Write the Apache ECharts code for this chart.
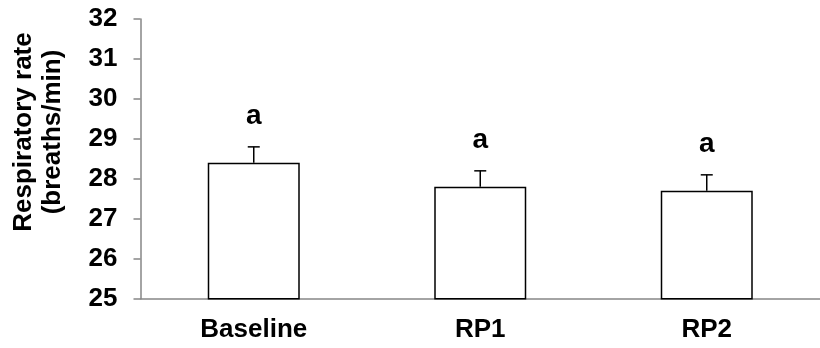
<!DOCTYPE html>
<html>
<head>
<meta charset="utf-8">
<script src="https://cdn.jsdelivr.net/npm/echarts@6/dist/echarts.min.js"></script>
<style>html,body{margin:0;padding:0;background:#fff;}#c{width:820px;height:348px;}</style>
</head>
<body>
<div id="c"></div>
<script>
var categories = ['Baseline', 'RP1', 'RP2'];
var means = [28.4, 27.8, 27.7];
var errors = [0.4, 0.4, 0.4];
var letters = ['a', 'a', 'a'];
var yTicks = [25, 26, 27, 28, 29, 30, 31, 32];
var yTitle = 'Respiratory rate\n(breaths/min)';

var FONT = '"Liberation Sans", Arial, sans-serif';
var chart = echarts.init(document.getElementById('c'), null, {renderer: 'canvas'});

var errData = categories.map(function (c, i) { return [i, means[i], means[i] + errors[i], letters[i]]; });

chart.setOption({
  animation: false,
  backgroundColor: '#fff',
  grid: {left: 140.5, right: -7.5, top: 19, bottom: 49.3},
  xAxis: {
    type: 'category',
    data: categories,
    axisLine: {lineStyle: {color: '#868686', width: 1.5}},
    axisTick: {show: false},
    axisLabel: {color: '#000', fontFamily: FONT, fontWeight: 'bold', fontSize: 26, margin: 18}
  },
  yAxis: {
    type: 'value',
    min: yTicks[0],
    max: yTicks[yTicks.length - 1],
    interval: 1,
    axisLine: {show: true, lineStyle: {color: '#868686', width: 1.5}},
    axisTick: {show: true, inside: false, length: 7, lineStyle: {color: '#868686', width: 1.5}},
    splitLine: {show: false},
    axisLabel: {color: '#000', fontFamily: FONT, fontWeight: 'bold', fontSize: 26, margin: 23}
  },
  graphic: [{
    type: 'text',
    x: 38, y: 132,
    rotation: Math.PI / 2,
    style: {
      text: yTitle,
      font: 'bold 26px ' + FONT,
      fill: '#000',
      align: 'center',
      verticalAlign: 'middle',
      lineHeight: 29
    }
  }],
  series: [{
    type: 'bar',
    data: means,
    barWidth: 92,
    itemStyle: {color: '#fff', borderColor: '#000', borderWidth: 1.5},
    z: 2
  }, {
    type: 'custom',
    data: errData,
    z: 3,
    renderItem: function (params, api) {
      var x = api.value(0);
      var lo = api.coord([x, api.value(1)]);
      var hi = api.coord([x, api.value(2)]);
      var cap = 6;
      return {
        type: 'group',
        children: [
          {type: 'line', shape: {x1: lo[0], y1: lo[1], x2: hi[0], y2: hi[1]}, style: {stroke: '#000', lineWidth: 1.5}},
          {type: 'line', shape: {x1: hi[0] - cap, y1: hi[1], x2: hi[0] + cap, y2: hi[1]}, style: {stroke: '#000', lineWidth: 1.5}},
          {type: 'text', x: hi[0], y: hi[1] - 31, style: {text: api.value(3), font: 'bold 28px ' + FONT, fill: '#000', align: 'center', verticalAlign: 'middle'}}
        ]
      };
    }
  }]
});
</script>
</body>
</html>
